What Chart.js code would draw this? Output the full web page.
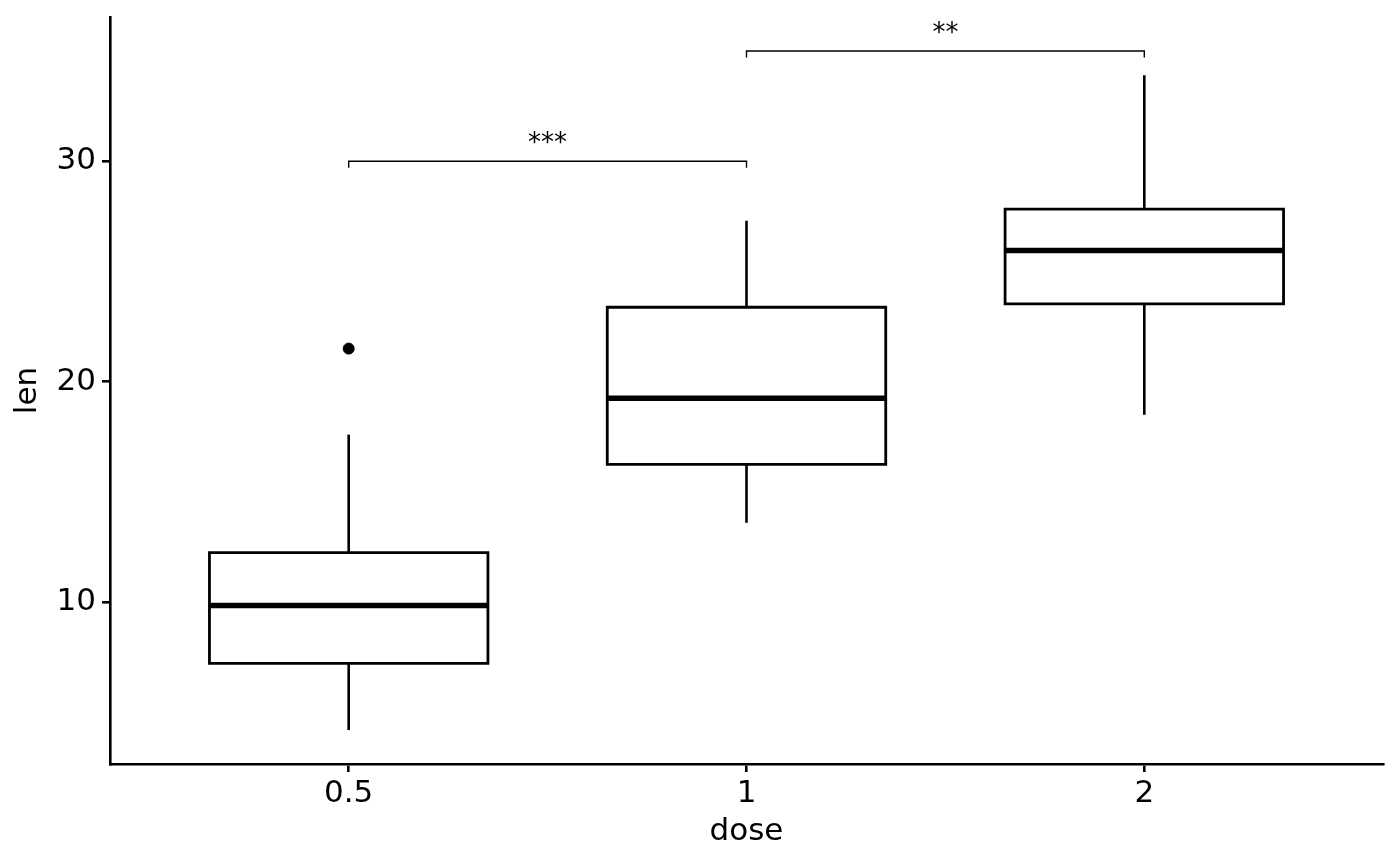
<!DOCTYPE html>
<html>
<head>
<meta charset="utf-8">
<script src="https://cdn.jsdelivr.net/npm/chart.js@4"></script>
<style>
  body { margin: 0; background: #fff; }
  #wrap { width: 1400px; height: 866px; }
</style>
</head>
<body>
<div id="wrap"><canvas id="myChart" width="1400" height="866"></canvas></div>
<script>
// ToothGrowth: len by dose
const doses = ['0.5', '1', '2'];
const q1 = [7.225, 16.25, 23.525];
const medians = [9.85, 19.25, 25.95];
const q3 = [12.25, 23.375, 27.825];
const whiskerLow = [4.2, 13.6, 18.5];
const whiskerHigh = [17.6, 27.3, 33.9];
const outlierGroup = [0];
const outlierLen = [21.5];
const yTicks = [10, 20, 30];

// significance brackets
const compareFrom = [0, 1];
const compareTo = [1, 2];
const compareY = [30, 35];
const compareLabel = ['***', '**'];

const BOX_HALF = 0.35;
const BRACKET_DROP = 0.3;

let datasets = [];

doses.forEach((d, i) => {
    // whiskers
    datasets.push({
        data: [{x: i, y: q3[i]}, {x: i, y: whiskerHigh[i]}],
        borderColor: '#000', borderWidth: 2.6, pointRadius: 0, showLine: true
    });
    datasets.push({
        data: [{x: i, y: whiskerLow[i]}, {x: i, y: q1[i]}],
        borderColor: '#000', borderWidth: 2.6, pointRadius: 0, showLine: true
    });
    // box (goes one side past the start so every corner gets a join)
    datasets.push({
        data: [
            {x: i - BOX_HALF, y: q1[i]}, {x: i + BOX_HALF, y: q1[i]},
            {x: i + BOX_HALF, y: q3[i]}, {x: i - BOX_HALF, y: q3[i]},
            {x: i - BOX_HALF, y: q1[i]}, {x: i + BOX_HALF, y: q1[i]}
        ],
        borderColor: '#000', borderWidth: 2.8, pointRadius: 0, showLine: true,
        borderJoinStyle: 'miter'
    });
    // median
    datasets.push({
        data: [{x: i - BOX_HALF, y: medians[i]}, {x: i + BOX_HALF, y: medians[i]}],
        borderColor: '#000', borderWidth: 5.5, pointRadius: 0, showLine: true
    });
});

datasets.push({
    data: outlierGroup.map((g, k) => ({x: g, y: outlierLen[k]})),
    backgroundColor: '#000', borderColor: '#000', pointRadius: 5.5, showLine: false
});

compareFrom.forEach((a, k) => {
    const b = compareTo[k];
    datasets.push({
        data: [
            {x: a, y: compareY[k] - BRACKET_DROP}, {x: a, y: compareY[k]},
            {x: b, y: compareY[k]}, {x: b, y: compareY[k] - BRACKET_DROP}
        ],
        borderColor: '#000', borderWidth: 1.4, pointRadius: 0, showLine: true,
        borderJoinStyle: 'miter'
    });
});

const starLabels = {
    id: 'starLabels',
    afterDatasetsDraw(chart) {
        const ctx = chart.ctx;
        const xs = chart.scales.x, ys = chart.scales.y;
        ctx.save();
        ctx.fillStyle = '#000';
        ctx.font = '26px "DejaVu Sans"';
        ctx.textAlign = 'center';
        ctx.textBaseline = 'alphabetic';
        compareFrom.forEach((a, k) => {
            const px = xs.getPixelForValue((a + compareTo[k]) / 2);
            const py = ys.getPixelForValue(compareY[k]);
            ctx.fillText(compareLabel[k], px, py - 10);
        });
        ctx.restore();
    }
};

const axisFont = {family: '"DejaVu Sans"', size: 31};

new Chart(document.getElementById('myChart'), {
    type: 'scatter',
    data: {datasets: datasets},
    plugins: [starLabels],
    options: {
        responsive: false,
        devicePixelRatio: 1,
        animation: false,
        layout: {padding: {top: 17, right: 17, left: 0, bottom: 0}},
        plugins: {legend: {display: false}, tooltip: {enabled: false}},
        scales: {
            x: {
                type: 'linear',
                min: -0.6, max: 2.6,
                afterBuildTicks: (s) => { s.ticks = doses.map((d, i) => ({value: i})); },
                afterFit: (s) => { s.height = 102; s.paddingLeft = 0; s.paddingRight = 0; },
                ticks: {
                    color: '#000', font: axisFont, padding: 3,
                    callback: (v) => doses[v]
                },
                grid: {drawOnChartArea: false, color: '#000', lineWidth: 2.6, tickLength: 8},
                border: {color: '#000', width: 2.6},
                title: {display: true, text: 'dose', color: '#000', font: axisFont, padding: {top: 0, bottom: 15}}
            },
            y: {
                type: 'linear',
                min: 2.66, max: 36.54,
                afterBuildTicks: (s) => { s.ticks = yTicks.map(v => ({value: v})); },
                afterFit: (s) => { s.width = 110; s.paddingTop = 0; s.paddingBottom = 0; },
                ticks: {color: '#000', font: axisFont, padding: 6},
                grid: {drawOnChartArea: false, color: '#000', lineWidth: 2.6, tickLength: 8},
                border: {color: '#000', width: 2.6},
                title: {display: true, text: 'len', color: '#000', font: axisFont, padding: {top: 9, bottom: 0}}
            }
        }
    }
});
</script>
</body>
</html>
